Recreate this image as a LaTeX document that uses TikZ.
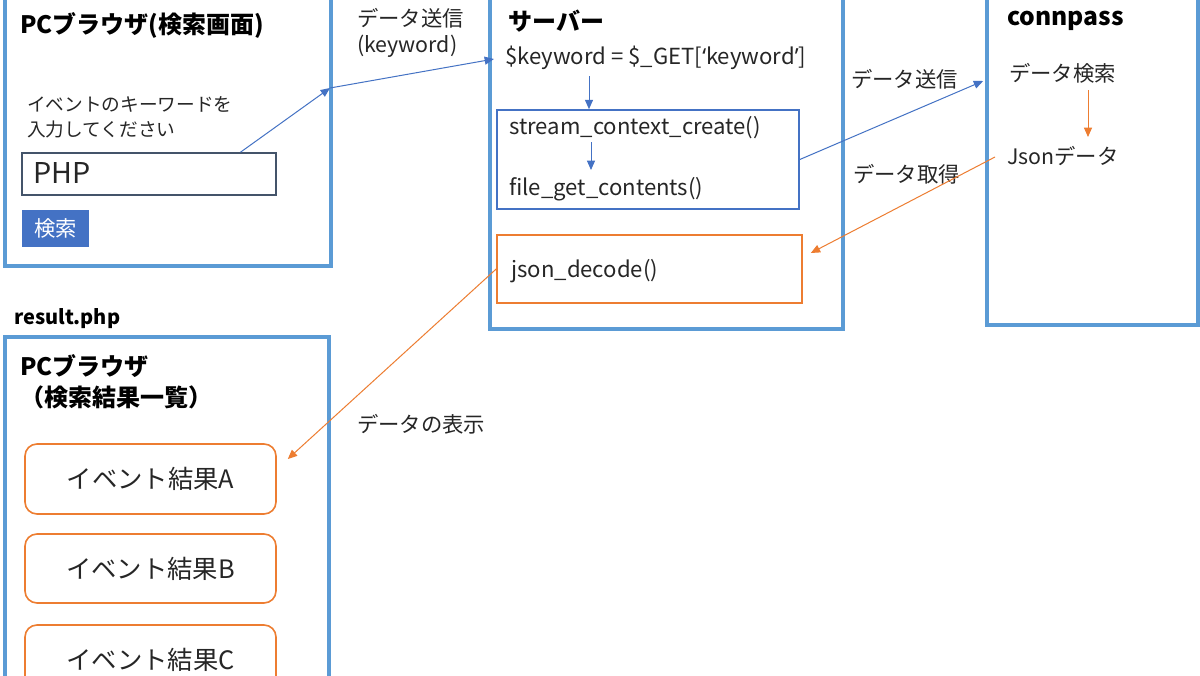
\documentclass[tikz,border=0pt]{standalone}
\usepackage{fontspec}
\setmainfont{Noto Sans CJK JP}
\newfontfamily\latfont{Noto Sans}
\usetikzlibrary{arrows.meta,fit,calc}
\definecolor{frameblue}{HTML}{5B9BD5}
\definecolor{accblue}{HTML}{4472C4}
\definecolor{accorange}{HTML}{ED7D31}
\definecolor{inkgray}{HTML}{44546A}
\definecolor{txt}{HTML}{262626}
\begin{document}
\begin{tikzpicture}[x=0.75pt,y=-0.75pt,
  bigbox/.style={draw=frameblue, line width=2.8pt, inner sep=0pt},
  bluebox/.style={draw=accblue, line width=1.2pt, inner sep=0pt},
  orangebox/.style={draw=accorange, line width=1.2pt, inner sep=0pt},
  eventbox/.style={draw=accorange, line width=1.2pt, inner sep=0pt, rounded corners=9pt},
  evtext/.style={inner sep=0pt, text=txt, font=\fontsize{19}{22}\selectfont},
  lbl/.style={inner sep=0pt, anchor=west, text=txt, font=\fontsize{16}{19.5}\selectfont, align=left},
  code/.style={lbl, font=\fontsize{16.6}{19.5}\selectfont},
  title/.style={inner sep=0pt, anchor=west, text=black, font=\fontsize{18}{23}\selectfont\bfseries, align=left},
  barrow/.style={draw=accblue, line width=0.75pt, -{Triangle[length=7pt,width=6pt]}},
  oarrow/.style={draw=accorange, line width=0.75pt, -{Triangle[length=7pt,width=6pt]}}]
\clip (0,0) rectangle (1200,675);
\fill[white] (0,0) rectangle (1200,675);

% ---- PC browser (search) ----
\node[bigbox, fit={(5,-10) (331,266)}] (b1) {};
\node[title] (t1) at (20,25) {PCブラウザ(検索画面)};
\node[lbl, font=\fontsize{14}{18.75}\selectfont] (prompt) at (27,117.5) {イベントのキーワードを\\入力してください};
\node[draw=inkgray, line width=1.2pt, inner sep=0pt, fit={(22,153) (276,195)}] (inp) {};
\node[lbl, font=\fontsize{21.5}{24}\selectfont] (php) at (33,173) {PHP};
\node[fill=accblue, inner sep=0pt, fit={(22,210) (89,247)}] (btn) {};
\node[inner sep=0pt, text=white, font=\fontsize{16}{19}\selectfont] (btntxt) at (btn.center) {検索};

% ---- server ----
\node[bigbox, fit={(490,-10) (843,329)}] (b2) {};
\node[title] (t2) at (508,21) {サーバー};
\node[code] (kw) at (505,58) {\$keyword = \$\_GET[{\latfont ‘}keyword{\latfont ’}]};
\node[bluebox, fit={(497,110) (799,209)}] (inbox) {};
\node[code] (sc) at (509,128) {stream\_context\_create()};
\node[code] (fg) at (509,189) {file\_get\_contents()};
\node[orangebox, fit={(497,235) (802,303)}] (jd) {};
\node[code] (jdt) at (511,271) {json\_decode()};

% ---- connpass ----
\node[bigbox, fit={(987,-10) (1198,325)}] (b3) {};
\node[title, font=\fontsize{18.5}{23}\selectfont\bfseries] (t3) at (1007,21) {connpass};
\node[lbl] (search) at (1009,73) {データ検索};
\node[lbl] (json) at (1007,156) {Jsonデータ};

% ---- result.php ----
\node[title, font=\fontsize{15}{18}\selectfont\bfseries] (res) at (14,319) {result.php};
\node[bigbox, fit={(5,337) (329,710)}] (b4) {};
\node[title] (t4) at (20,381.5) {PCブラウザ\\（検索結果一覧）};
\node[eventbox, fit={(25,444) (276,514)}] (evA) {};
\node[eventbox, fit={(25,534) (276,603)}] (evB) {};
\node[eventbox, fit={(25,625) (276,705)}] (evC) {};
\node[evtext] (tA) at (evA.center) {イベント結果A};
\node[evtext] (tB) at (evB.center) {イベント結果B};
\node[evtext] (tC) at (evA.center |- 0,660) {イベント結果C};

% ---- connector labels ----
\node[lbl] (l1) at (357,33) {データ送信\\(keyword)};
\node[lbl] (l2) at (851,79) {データ送信};
\node[lbl] (l3) at (853,174) {データ取得};
\node[lbl] (l4) at (357,424) {データの表示};

% ---- connectors ----
\coordinate (k1) at (330,88);
\draw[barrow] ($(inp.north west)!0.858!(inp.north east)$) -- (k1);
\draw[barrow] (k1) -- ($(kw.west)+(-11,1)$);
\coordinate (s1) at (589,76);
\draw[barrow] (s1) -- (s1 |- inbox.north);
\coordinate (s2) at (591,142);
\draw[barrow] (s2) -- (591,170);
\draw[barrow] (inbox.east) -- ($(b3.west |- 0,81)+(-2,0)$);
\coordinate (c1) at (1088,90);
\draw[oarrow] (c1) -- (1088,137);
\draw[oarrow] ($(json.west)+(-12,1)$) -- ($(jd.east)+(8,-16)$);
\draw[oarrow] (jd.west) -- ($(evA.east)+(11,-20)$);
\end{tikzpicture}
\end{document}
